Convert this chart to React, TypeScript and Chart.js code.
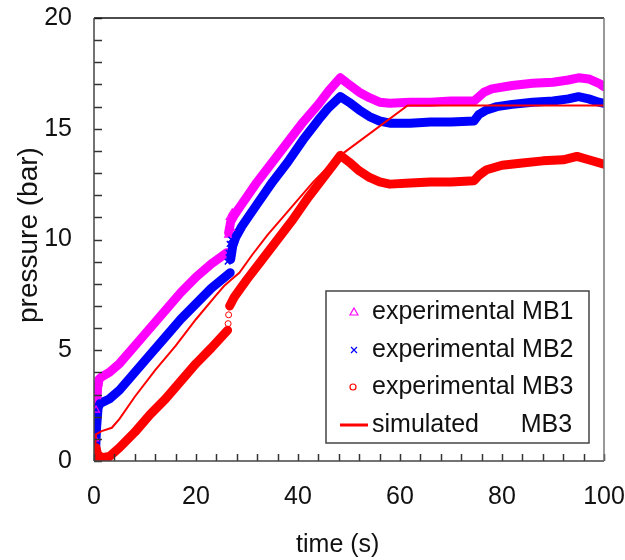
import React, { useEffect, useRef } from "react";
import { Chart, registerables } from "chart.js";

Chart.register(...registerables);

// ---- experimental MB1 (magenta) ----
const mb1Time = [0.5, 0.7, 1.0, 1.5, 3, 5, 8, 11, 14, 17, 20, 23, 26, 26.1, 26.4, 26.8, 27.5, 29, 32, 35, 38, 41, 44, 46, 48.3, 50, 52, 54, 56, 58, 62, 66, 70, 74.5, 75.5, 76.5, 78, 82, 86, 90, 93, 95, 97, 99, 100];
const mb1Pressure = [2.4, 3.3, 3.7, 3.8, 4.0, 4.4, 5.2, 6.0, 6.8, 7.6, 8.3, 8.9, 9.4, null, 10.3, 10.8, 11.1, 11.6, 12.6, 13.5, 14.4, 15.3, 16.1, 16.7, 17.3, 17.0, 16.65, 16.4, 16.2, 16.15, 16.2, 16.2, 16.25, 16.25, 16.45, 16.65, 16.8, 16.95, 17.05, 17.1, 17.2, 17.3, 17.25, 17.05, 16.9];
const mb1LooseTime = [0.2, 0.4, 0.6, 0.9, 26.3, 26.5, 26.6, 26.9, 27.1];
const mb1LoosePressure = [1.0, 2.3, 2.9, 3.5, 10.2, 10.6, 11.0, 10.5, 11.2];

// ---- experimental MB2 (blue) ----
const mb2Time = [0.3, 0.5, 0.8, 1.2, 3, 5, 8, 11, 14, 17, 20, 23, 26.7, 26.75, 26.8, 27.2, 27.8, 29, 32, 35, 38, 41, 44, 46, 48.3, 50, 52, 54, 56, 58, 62, 66, 70, 74.5, 75.5, 77, 79, 82, 86, 90, 93, 95, 97, 99, 100];
const mb2Pressure = [0.4, 1.5, 2.4, 2.6, 2.8, 3.2, 4.0, 4.8, 5.6, 6.4, 7.1, 7.8, 8.5, null, 9.1, 9.7, 10.1, 10.6, 11.6, 12.6, 13.5, 14.5, 15.4, 15.95, 16.45, 16.2, 15.85, 15.55, 15.35, 15.25, 15.25, 15.3, 15.3, 15.35, 15.65, 15.85, 16.0, 16.1, 16.2, 16.25, 16.35, 16.45, 16.35, 16.2, 16.15];
const mb2LooseTime = [26.2, 26.4, 26.6, 26.9];
const mb2LoosePressure = [9.0, 9.4, 9.8, 10.0];

// ---- experimental MB3 (red) ----
const mb3Time = [0.2, 0.4, 0.7, 1.5, 3, 5, 8, 11, 14, 17, 20, 23, 26.2, 26.3, 26.6, 27.5, 30, 33, 36, 39, 42, 45, 47, 48.3, 50, 52, 54, 56, 58, 62, 66, 70, 74.5, 75.5, 77, 80, 84, 88, 92, 94.7, 97, 100];
const mb3Pressure = [0.0, 0.6, 0.3, 0.15, 0.2, 0.6, 1.3, 2.1, 2.8, 3.6, 4.4, 5.1, 5.9, null, 7.0, 7.4, 8.2, 9.1, 10.0, 10.9, 11.9, 12.8, 13.4, 13.8, 13.5, 13.1, 12.8, 12.6, 12.5, 12.55, 12.6, 12.6, 12.65, 12.9, 13.15, 13.35, 13.45, 13.55, 13.6, 13.75, 13.6, 13.4];
const mb3LooseTime = [26.3, 26.4];
const mb3LoosePressure = [6.2, 6.6];

// ---- simulated MB3 (red line) ----
const simTime = [0, 0.4, 1.5, 3.5, 5, 8, 12, 16, 20, 24, 25.5, 27, 28.5, 31, 34, 37, 40, 43, 46, 48.3, 61.5, 70, 80, 90, 100];
const simPressure = [0, 1.2, 1.35, 1.5, 1.9, 2.9, 4.1, 5.2, 6.4, 7.5, 7.9, 8.2, 8.5, 9.3, 10.2, 11.0, 11.8, 12.6, 13.3, 13.8, 16.05, 16.05, 16.05, 16.05, 16.05];

// ---- axes ----
const xMin = 0, xMax = 100, xLabelStep = 20, xMinorStep = 4;
const yMin = 0, yMax = 20, yLabelStep = 5, yMinorStep = 1;
const xTitle = "time (s)";
const yTitle = "pressure (bar)";
const legendLabels = ["experimental MB1", "experimental MB2", "experimental MB3", "simulated      MB3"];

const MAGENTA = "#ff00ff";
const BLUE = "#0000ff";
const RED = "#ff0000";
const FONT = "'Liberation Sans', Arial, Helvetica, sans-serif";

const pts = (t: number[], p: (number | null)[]) => t.map((x, i) => ({ x, y: p[i] }));

const framePlugin = {
  id: "frameTicks",
  afterDatasetsDraw(chart: any) {
    const { ctx, chartArea: a, scales } = chart;
    const x = scales.x, y = scales.y;
    ctx.save();
    ctx.lineWidth = 1.5;
    ctx.strokeStyle = "#333";
    for (let v = xMin; v <= xMax; v += xMinorStep) {
      const px = Math.round(x.getPixelForValue(v)) + 0.5;
      ctx.beginPath(); ctx.moveTo(px, a.bottom); ctx.lineTo(px, a.bottom - 7); ctx.stroke();
    }
    for (let v = yMin; v <= yMax; v += yMinorStep) {
      const py = Math.round(y.getPixelForValue(v)) + 0.5;
      ctx.beginPath(); ctx.moveTo(a.left, py); ctx.lineTo(a.left + 8, py); ctx.stroke();
    }
    const seg = (c: string, x1: number, y1: number, x2: number, y2: number) => {
      ctx.strokeStyle = c; ctx.beginPath(); ctx.moveTo(x1, y1); ctx.lineTo(x2, y2); ctx.stroke();
    };
    seg("#111", a.left, a.top, a.right, a.top);
    seg("#444", a.left, a.top, a.left, a.bottom);
    seg("#444", a.left, a.bottom, a.right, a.bottom);
    seg("#777", a.right, a.top, a.right, a.bottom);
    ctx.restore();
  },
};

const titlePlugin = {
  id: "axisTitles",
  afterDraw(chart: any) {
    const { ctx, chartArea: a } = chart;
    ctx.save();
    ctx.fillStyle = "#111";
    ctx.textAlign = "center";
    ctx.textBaseline = "middle";
    ctx.font = `25px ${FONT}`;
    ctx.fillText(xTitle, a.left + (a.right - a.left) * 0.478, chart.height - 15);
    ctx.translate(29, a.top + (a.bottom - a.top) * 0.49);
    ctx.rotate(-Math.PI / 2);
    ctx.font = `28px ${FONT}`;
    ctx.fillText(yTitle, 0, 0);
    ctx.restore();
  },
};

const legendPlugin = {
  id: "insideLegend",
  afterDraw(chart: any) {
    const { ctx, chartArea: a } = chart;
    const bx = a.left + 232, by = a.top + 273, bw = 263, bh = 152;
    ctx.save();
    ctx.fillStyle = "#fff";
    ctx.fillRect(bx, by, bw, bh);
    ctx.strokeStyle = "#444";
    ctx.lineWidth = 1.5;
    ctx.strokeRect(bx, by, bw, bh);
    const rows = [by + 21, by + 59, by + 96, by + 134];
    const mx = bx + 28;
    ctx.lineWidth = 1.2;
    ctx.strokeStyle = MAGENTA;
    ctx.beginPath(); ctx.moveTo(mx, rows[0] - 4); ctx.lineTo(mx + 4, rows[0] + 3); ctx.lineTo(mx - 4, rows[0] + 3); ctx.closePath(); ctx.stroke();
    ctx.strokeStyle = BLUE;
    ctx.beginPath(); ctx.moveTo(mx - 3, rows[1] - 3); ctx.lineTo(mx + 3, rows[1] + 3); ctx.moveTo(mx + 3, rows[1] - 3); ctx.lineTo(mx - 3, rows[1] + 3); ctx.stroke();
    ctx.strokeStyle = RED;
    ctx.beginPath(); ctx.arc(mx - 1, rows[2], 3, 0, Math.PI * 2); ctx.stroke();
    ctx.lineWidth = 3;
    ctx.beginPath(); ctx.moveTo(bx + 14, rows[3]); ctx.lineTo(bx + 42, rows[3]); ctx.stroke();
    ctx.fillStyle = "#111";
    ctx.font = `25px ${FONT}`;
    ctx.textBaseline = "middle";
    ctx.textAlign = "left";
    legendLabels.forEach((l, i) => ctx.fillText(l, bx + 46, rows[i]));
    ctx.restore();
  },
};

export default function App() {
  const ref = useRef<HTMLCanvasElement>(null);
  useEffect(() => {
    document.body.style.margin = "0";
    const tickFont = { family: FONT, size: 25 };
    const bandStyle = { borderWidth: 9, pointRadius: 0, borderJoinStyle: "round", borderCapStyle: "round", spanGaps: false };
    const chart = new Chart(ref.current as HTMLCanvasElement, {
      type: "line",
      data: {
        datasets: [
          { label: "simulated MB3", data: pts(simTime, simPressure), borderColor: RED, borderWidth: 2, pointRadius: 0, order: 0 },
          { label: "MB3 loose", data: pts(mb3LooseTime, mb3LoosePressure), showLine: false, pointStyle: "circle", pointRadius: 3, borderWidth: 1, borderColor: RED, backgroundColor: "rgba(0,0,0,0)", order: 1 },
          { label: "MB2 loose", data: pts(mb2LooseTime, mb2LoosePressure), showLine: false, pointStyle: "crossRot", pointRadius: 4, borderWidth: 1.5, borderColor: BLUE, order: 1 },
          { label: "MB1 loose", data: pts(mb1LooseTime, mb1LoosePressure), showLine: false, pointStyle: "triangle", pointRadius: 4, borderWidth: 1.2, borderColor: MAGENTA, backgroundColor: "rgba(0,0,0,0)", order: 1 },
          { label: "experimental MB3", data: pts(mb3Time, mb3Pressure), borderColor: RED, ...bandStyle, order: 2 },
          { label: "experimental MB2", data: pts(mb2Time, mb2Pressure), borderColor: BLUE, ...bandStyle, order: 3 },
          { label: "experimental MB1", data: pts(mb1Time, mb1Pressure), borderColor: MAGENTA, ...bandStyle, order: 4 },
        ] as any,
      },
      options: {
        animation: false,
        responsive: false,
        parsing: false as any,
        layout: { padding: 0 },
        plugins: { legend: { display: false }, tooltip: { enabled: false } },
        scales: {
          x: {
            type: "linear",
            min: xMin,
            max: xMax,
            ticks: { stepSize: xLabelStep, padding: 21, color: "#111", font: tickFont, maxRotation: 0, autoSkip: false },
            grid: { display: false, drawTicks: false },
            border: { display: false },
            title: { display: false },
            afterFit: (s: any) => { s.height = 99; s.paddingLeft = 0; s.paddingRight = 21; },
          },
          y: {
            type: "linear",
            min: yMin,
            max: yMax,
            ticks: { stepSize: yLabelStep, padding: 22, color: "#111", font: tickFont },
            grid: { display: false, drawTicks: false },
            border: { display: false },
            title: { display: false },
            afterFit: (s: any) => { s.width = 94; s.paddingTop = 18; s.paddingBottom = 0; },
          },
        },
      } as any,
      plugins: [framePlugin, titlePlugin, legendPlugin],
    });
    return () => chart.destroy();
  }, []);
  return (
    <div style={{ width: 625, height: 560, background: "#fff" }}>
      <canvas ref={ref} width={625} height={560} style={{ display: "block", width: 625, height: 560 }} />
    </div>
  );
}
